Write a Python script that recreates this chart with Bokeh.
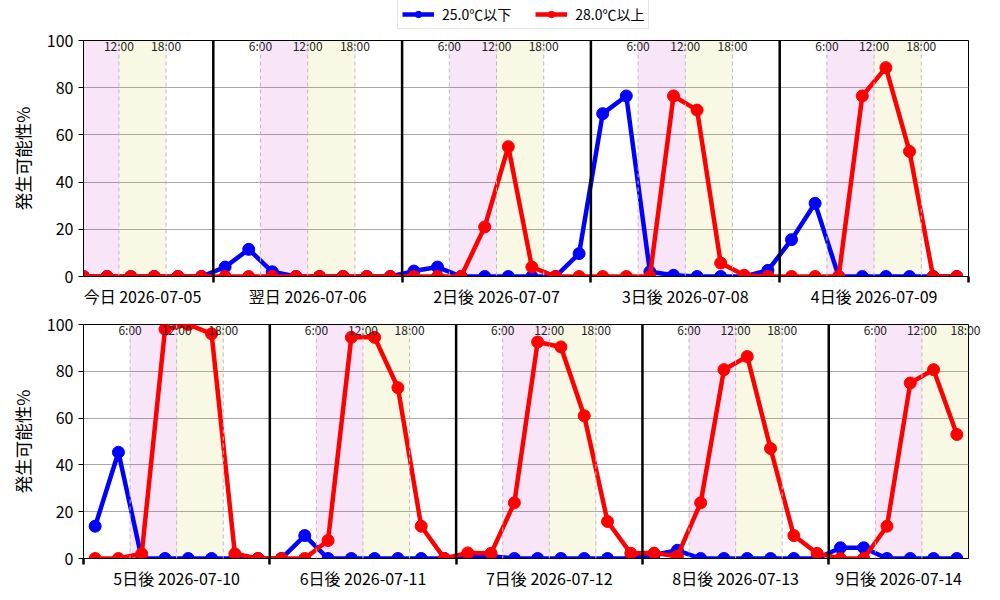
from bokeh.plotting import figure
from bokeh.models import (Range1d, FixedTicker, Span, ColumnDataSource,
                          Legend, LegendItem, LinearAxis)
from bokeh.layouts import column
from bokeh.embed import file_html
from bokeh.resources import INLINE

FONT = "Noto Sans CJK JP"

# ---- data -------------------------------------------------------------
dates = ["2026-07-05", "2026-07-06", "2026-07-07", "2026-07-08", "2026-07-09",
         "2026-07-10", "2026-07-11", "2026-07-12", "2026-07-13", "2026-07-14"]
day_names = ["今日", "翌日", "2日後", "3日後", "4日後",
             "5日後", "6日後", "7日後", "8日後", "9日後"]
marks = ["6:00", "12:00", "18:00"]
mark_hours = [6, 12, 18]

# 3-hourly values; top panel starts 07-05 7:30, bottom panel starts 07-10 1:30
top_start = 7.5
bottom_start = 121.5
step = 3

low25_top = [0, 0, 0, 0, 0, 0,
             4, 11.5, 2, 0, 0, 0, 0, 0,
             2.3, 4, 0, 0, 0, 0, 0, 9.7,
             69, 76.5, 2, 0.5, 0, 0, 0, 2.6,
             15.6, 31, 0, 0, 0, 0, 0, 0]
high28_top = [0, 0, 0, 0, 0, 0,
              0, 0, 0, 0, 0, 0, 0, 0,
              0, 0, 0, 21, 55, 4, 0, 0,
              0, 0, 0, 76.5, 70.5, 5.7, 0.5, 0,
              0, 0, 0, 76.5, 88.5, 53, 0, 0]
low25_bottom = [13.8, 45.4, 0, 0, 0, 0, 0, 0,
                0, 9.8, 0, 0, 0, 0, 0, 0,
                1, 1, 0, 0, 0, 0, 0, 0,
                1.5, 3.5, 0, 0, 0, 0, 0, 0,
                4.6, 4.6, 0, 0, 0, 0]
high28_bottom = [0, 0, 2, 98, 100, 96, 2, 0,
                 0, 0, 7.7, 94.5, 94.5, 73, 13.8, 0,
                 2.4, 2.2, 23.8, 92.5, 90.4, 61, 15.8, 2.2,
                 2.3, 1, 23.8, 80.7, 86.3, 47, 9.8, 2.2,
                 0, 0, 13.8, 75, 80.7, 53]

series_names = ["25.0℃以下", "28.0℃以上"]
series_colors = ["#0000ff", "#ff0000"]
y_ticks = [0, 20, 40, 60, 80, 100]

LINE_W = 4.5
MARK_S = 12


def make_panel(day_ids, start, low, high, x_lo, x_hi, height,
               top_border, bottom_border):
    xs = [start + step * i for i in range(len(low))]
    p = figure(width=980, height=height,
               x_range=Range1d(x_lo, x_hi), y_range=Range1d(0, 100),
               output_backend="svg", toolbar_location=None,
               min_border_left=83, min_border_right=12,
               min_border_top=top_border, min_border_bottom=bottom_border)
    p.outline_line_color = "black"
    p.outline_line_width = 1
    p.xgrid.visible = False
    p.ygrid.grid_line_color = "#a8a8a8"
    p.ygrid.grid_line_width = 1

    # shading and guides for each day
    for d in day_ids:
        base = 24 * d
        p.quad(left=base + 6, right=base + 12, bottom=0, top=100,
               fill_color="#bf00bf", fill_alpha=0.1, line_color=None)
        p.quad(left=base + 12, right=base + 18, bottom=0, top=100,
               fill_color="#bfbf00", fill_alpha=0.1, line_color=None)
        for h in mark_hours:
            if x_lo < base + h < x_hi:
                p.add_layout(Span(location=base + h, dimension="height",
                                  line_color="#c0b8c0", line_width=1,
                                  line_dash="4 3"))

    for vals, color in zip([low, high], series_colors):
        src = ColumnDataSource(dict(x=xs, y=vals))
        p.line("x", "y", source=src, line_color=color, line_width=LINE_W)
        p.scatter("x", "y", source=src, size=MARK_S, fill_color=color,
                  line_color=color)

    # day boundaries
    bounds = []
    for d in day_ids:
        b = 24 * d
        if x_lo < b < x_hi:
            p.add_layout(Span(location=b, dimension="height",
                              line_color="black", line_width=2.5))
        if x_lo <= b < x_hi:
            bounds.append(b)
        if 24 * (d + 1) == x_hi:
            bounds.append(24 * (d + 1))

    # label positions: mean of the point times inside each day
    label_pos, overrides = [], {}
    for d in day_ids:
        inday = [x for x in xs if 24 * d <= x < 24 * (d + 1)]
        c = sum(inday) / len(inday)
        label_pos.append(c)
        overrides[c] = f"{day_names[d]} {dates[d]}"

    xa = p.xaxis[0]
    xa.ticker = FixedTicker(ticks=label_pos, minor_ticks=bounds)
    xa.major_label_overrides = overrides
    xa.major_tick_out = 0
    xa.major_tick_in = 0
    xa.minor_tick_out = 6
    xa.minor_tick_in = 0
    xa.minor_tick_line_width = 2.5
    xa.minor_tick_line_color = "black"
    xa.axis_line_color = "black"
    xa.major_label_standoff = 1
    xa.major_label_text_font = FONT
    xa.major_label_text_font_size = "16px"
    xa.major_label_text_color = "black"

    ya = p.yaxis[0]
    ya.ticker = FixedTicker(ticks=y_ticks)
    ya.axis_label = "発生可能性%"
    ya.axis_label_text_font = FONT
    ya.axis_label_text_font_size = "17.5px"
    ya.axis_label_text_font_style = "normal"
    ya.axis_label_text_color = "black"
    ya.axis_label_standoff = 9
    ya.major_label_text_font = FONT
    ya.major_label_text_font_size = "16px"
    ya.major_label_text_color = "black"
    ya.major_tick_out = 5
    ya.major_tick_in = 0
    ya.minor_tick_out = 0
    ya.minor_tick_in = 0
    ya.axis_line_color = "black"

    # hour marks (6:00 / 12:00 / 18:00) drawn just inside the top of the frame
    mark_pos = [24 * d + h for d in day_ids for h in mark_hours]
    mark_over = {24 * d + h: m for d in day_ids for h, m in zip(mark_hours, marks)}
    ha = LinearAxis(ticker=FixedTicker(ticks=mark_pos),
                    major_label_overrides=mark_over,
                    bounds=(min(mark_pos), max(mark_pos)))
    ha.axis_line_color = None
    ha.major_tick_out = 0
    ha.major_tick_in = 0
    ha.minor_tick_out = 0
    ha.minor_tick_in = 0
    ha.major_label_standoff = -13
    ha.major_label_text_font = FONT
    ha.major_label_text_font_size = "12px"
    ha.major_label_text_color = "#222222"
    p.add_layout(ha, "above")
    return p


# legend strip above the charts
lg_fig = figure(width=980, height=29, x_range=Range1d(0, 1), y_range=Range1d(0, 1),
                output_backend="svg", toolbar_location=None,
                min_border_left=83, min_border_right=12,
                min_border_top=0, min_border_bottom=0)
lg_fig.axis.visible = False
lg_fig.grid.visible = False
lg_fig.outline_line_color = None
items = []
for n, color in zip(series_names, series_colors):
    # legend-only renderers, placed outside the visible range
    r1 = lg_fig.line([5, 6], [5, 5], line_color=color, line_width=LINE_W)
    r2 = lg_fig.scatter([5, 6], [5, 5], size=MARK_S, fill_color=color,
                        line_color=color)
    items.append(LegendItem(label=n, renderers=[r1, r2]))
lg = Legend(items=items, orientation="horizontal", location=(314, 0))
lg.label_text_font = FONT
lg.label_text_font_size = "14px"
lg.label_text_color = "black"
lg.glyph_width = 32
lg.glyph_height = 16
lg.label_height = 16
lg.label_standoff = 8
lg.spacing = 24
lg.padding = 4
lg.margin = 0
lg.border_line_color = "#cccccc"
lg.border_line_width = 1
lg_fig.add_layout(lg, "center")

top = make_panel([0, 1, 2, 3, 4], top_start, low25_top, high28_top,
                 7.5, 120, 281, 11, 26)
bottom = make_panel([5, 6, 7, 8, 9], bottom_start, low25_bottom, high28_bottom,
                    120, 234, 282, 14, 24)

layout = column(lg_fig, top, bottom, spacing=0)
open("out.html", "w").write(file_html(layout, INLINE))
